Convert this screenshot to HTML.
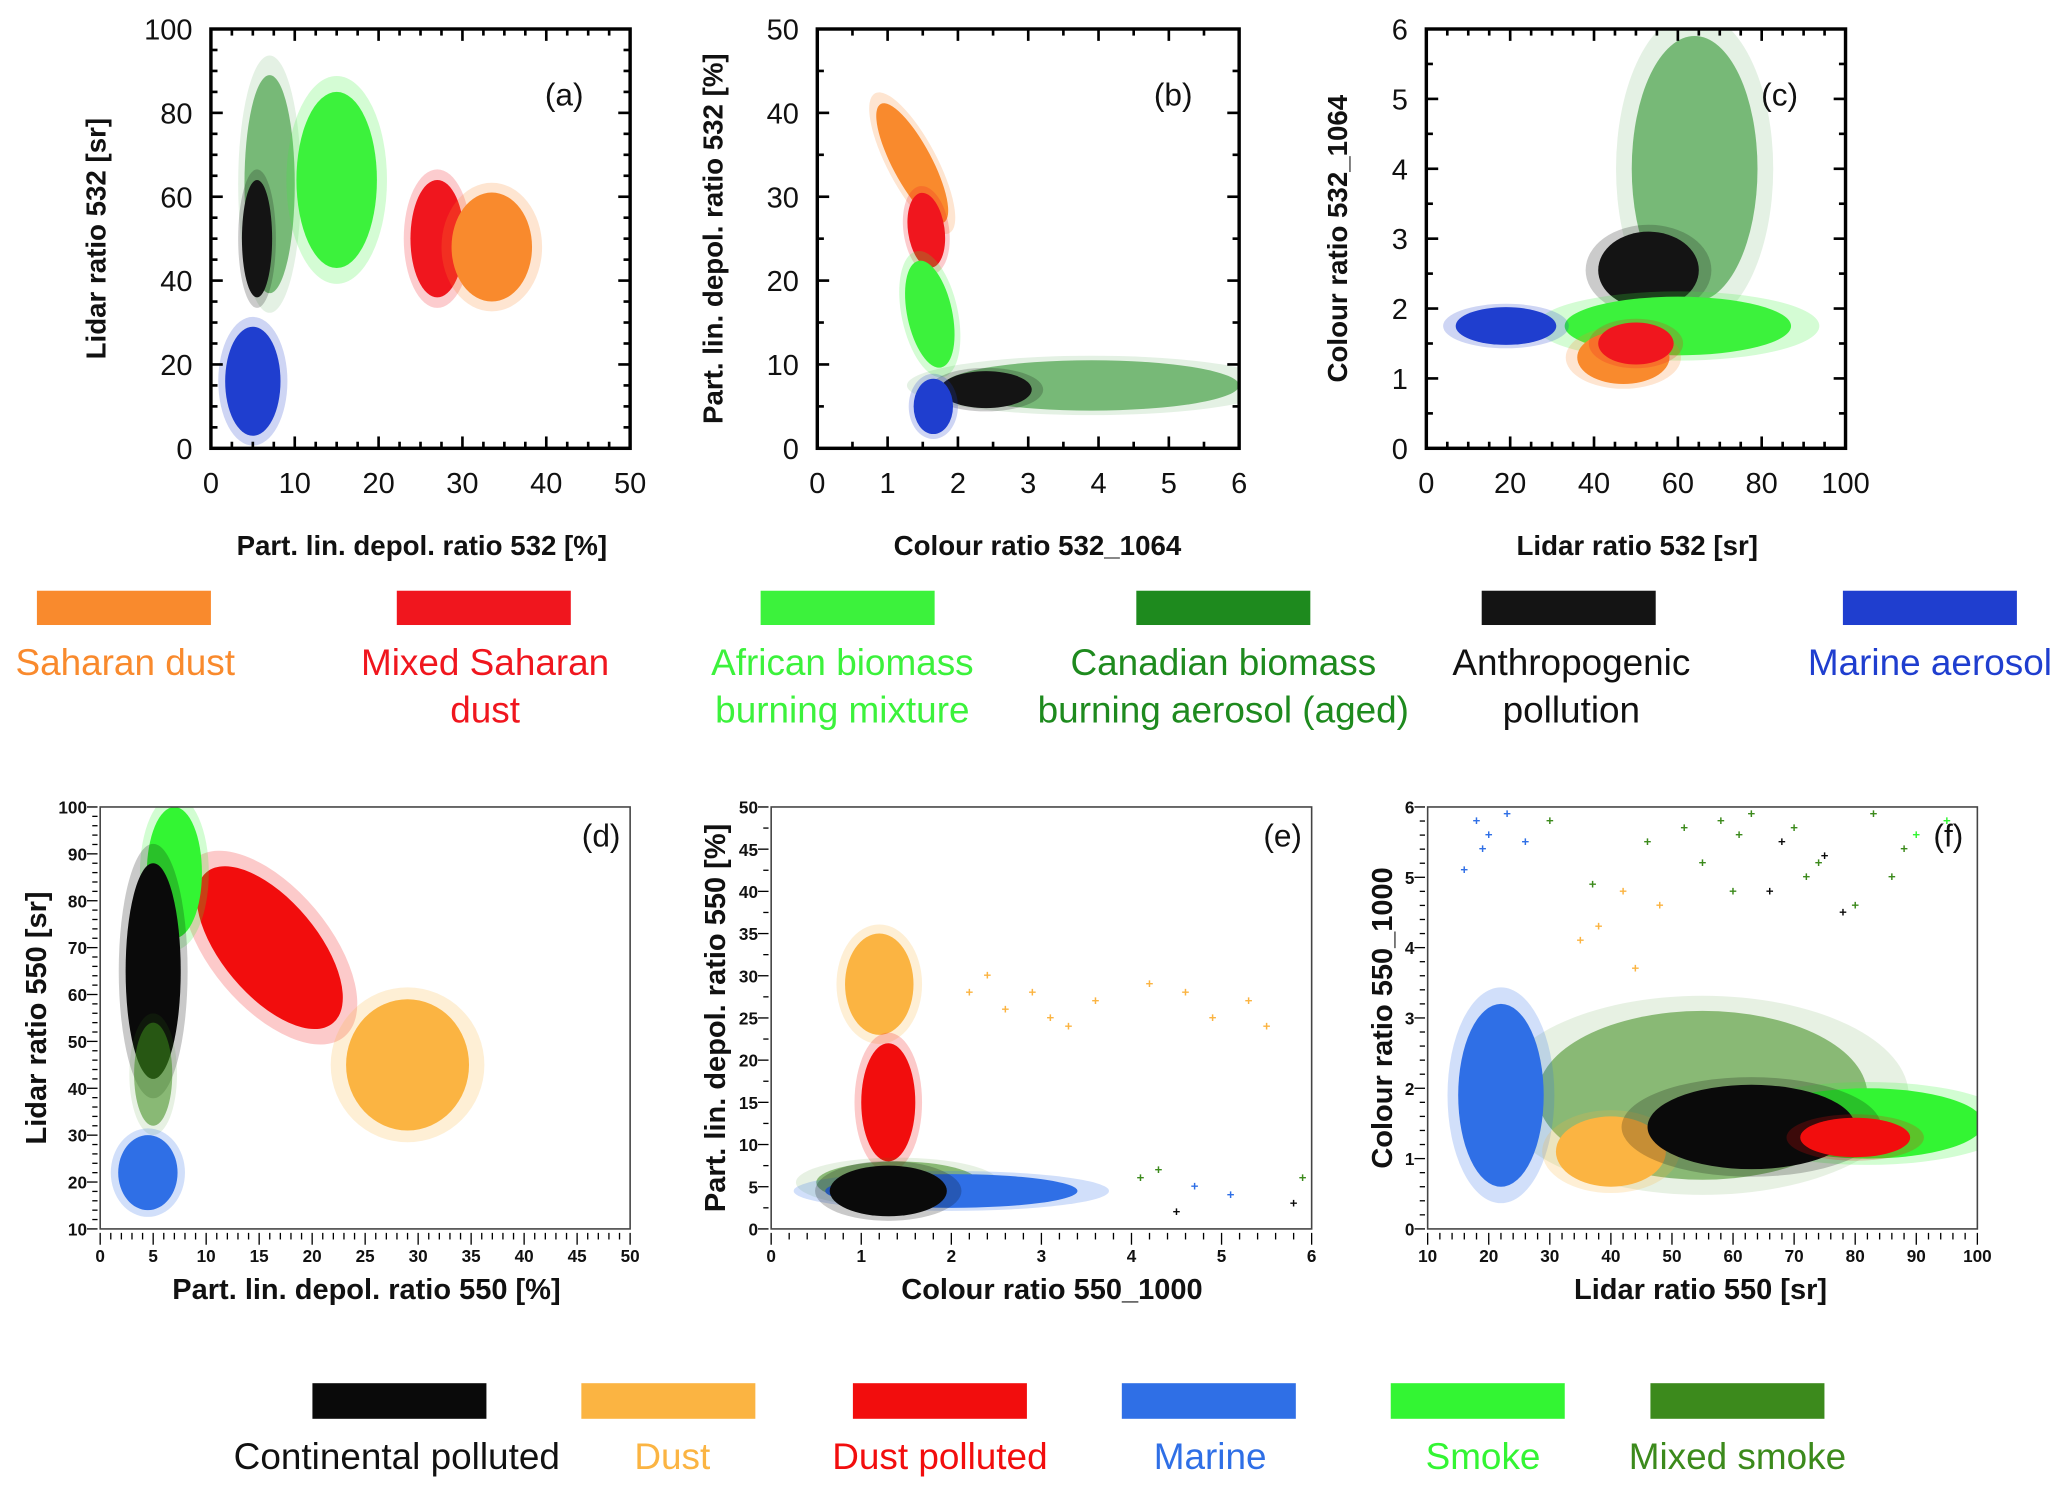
<!DOCTYPE html>
<html><head><meta charset="utf-8"><style>
html,body{margin:0;padding:0;background:#fff;}
svg{display:block;}
text{font-family:"Liberation Sans",sans-serif;}
</style></head><body>
<svg id="fig" width="2067" height="1490" viewBox="0 0 1568 1130" preserveAspectRatio="none" xmlns="http://www.w3.org/2000/svg">
<rect x="0" y="0" width="1568" height="1130" fill="#fff"/>
</svg>
<script>
// ---- Data: cluster centres / spreads per panel (data units) ----
// Panel (a)
const aNames = ["canadian","anthro","african","mixedsah","saharan","marine"];
const aCx = [7, 5.5, 15, 27, 33.5, 5];
const aCy = [63, 50, 64, 50, 48, 16];
const aRx = [3, 1.8, 4.8, 3.2, 4.8, 3.3];
const aRy = [26, 14, 21, 14, 13, 13];
const aRot = [0, 0, 0, 0, 0, 0];
// Panel (b)
const bNames = ["saharan","mixedsah","african","canadian","anthro","marine"];
const bCx = [1.35, 1.55, 1.6, 3.9, 2.4, 1.65];
const bCy = [34, 26, 16, 7.5, 7, 5];
const bRx = [0.28, 0.26, 0.32, 2.1, 0.65, 0.28];
const bRy = [8, 4.5, 6.5, 3, 2.2, 3.3];
const bRot = [-28, -8, -12, 0, 0, 0];
// Panel (c)
const cNames = ["canadian","anthro","african","saharan","mixedsah","marine"];
const cCx = [64, 53, 60, 47, 50, 19];
const cCy = [4.0, 2.55, 1.75, 1.3, 1.5, 1.75];
const cRx = [15, 12, 27, 11, 9, 12];
const cRy = [1.9, 0.55, 0.42, 0.38, 0.3, 0.27];
const cRot = [0, 0, 0, 0, 0, 0];
// Panel (d)
const dNames = ["dustpol","dust","smoke","contpol","mixsmoke","marine2"];
const dCx = [16, 29, 7, 5, 5, 4.5];
const dCy = [70, 45, 86, 65, 43, 22];
const dRx = [4.5, 5.8, 2.6, 2.6, 1.8, 2.8];
const dRy = [21, 14, 14, 23, 11, 8];
const dRot = [-40, 0, 0, 0, 0, 0];
// Panel (e)
const eNames = ["dust","dustpol","mixsmoke","marine2","contpol"];
const eCx = [1.2, 1.3, 1.4, 2.0, 1.3];
const eCy = [29, 15, 5.5, 4.5, 4.5];
const eRx = [0.38, 0.3, 0.9, 1.4, 0.65];
const eRy = [6, 7, 2.5, 2, 3];
const eRot = [0, 0, 0, 0, 0];
// Panel (f)
const fNames = ["mixsmoke","marine2","dust","smoke","contpol","dustpol"];
const fCx = [55, 22, 40, 82, 63, 80];
const fCy = [1.9, 1.9, 1.1, 1.5, 1.45, 1.3];
const fRx = [27, 7, 9, 19, 17, 9];
const fRy = [1.2, 1.3, 0.5, 0.5, 0.6, 0.28];
const fRot = [0, 0, 0, 0, 0, 0];
// Sparse outlier points
const eSparseX = [2.2,2.6,3.3,3.6,4.2,4.6,4.9,5.3,5.5,2.4,2.9,3.1,4.1,4.7,5.8,4.5,5.9,4.3,5.1];
const eSparseY = [28,26,24,27,29,28,25,27,24,30,28,25,6,5,3,2,6,7,4];
const eSparseC = ["dust","dust","dust","dust","dust","dust","dust","dust","dust","dust","dust","dust","mixsmoke","marine2","contpol","contpol","mixsmoke","mixsmoke","marine2"];
const fSparseX = [18,20,23,26,16,19,38,42,46,48,55,60,63,68,72,75,80,83,86,90,35,44,58,66,70,78,30,37,52,61,74,88,95];
const fSparseY = [5.8,5.6,5.9,5.5,5.1,5.4,4.3,4.8,5.5,4.6,5.2,4.8,5.9,5.5,5.0,5.3,4.6,5.9,5.0,5.6,4.1,3.7,5.8,4.8,5.7,4.5,5.8,4.9,5.7,5.6,5.2,5.4,5.8];
const fSparseC = ["marine2","marine2","marine2","marine2","marine2","marine2","dust","dust","mixsmoke","dust","mixsmoke","mixsmoke","mixsmoke","contpol","mixsmoke","contpol","mixsmoke","mixsmoke","mixsmoke","smoke","dust","dust","mixsmoke","contpol","mixsmoke","contpol","mixsmoke","mixsmoke","mixsmoke","mixsmoke","mixsmoke","mixsmoke","smoke"];

// ---- Styles ----
const colors = {saharan:"#f98a2d",mixedsah:"#f0161e",african:"#3cf23c",canadian:"#1e8a1e",anthro:"#141414",marine:"#1f3ecf",
  contpol:"#0a0a0a",dust:"#fbb442",dustpol:"#f20d0d",smoke:"#33f533",mixsmoke:"#3c8a1c",marine2:"#2f6fe6"};
const alphas = {canadian:0.55, mixsmoke:0.55};
const NS="http://www.w3.org/2000/svg";
const svg=document.getElementById('fig');
function el(tag,attrs,parent){const e=document.createElementNS(NS,tag);for(const k in attrs)e.setAttribute(k,attrs[k]);(parent||svg).appendChild(e);return e;}

function panel(cfg, names, cx, cy, rx, ry, rot, sx, sy, sc){
  const g=el('g',{});
  
  
  const X=v=>cfg.x0+(v-cfg.xmin)/(cfg.xmax-cfg.xmin)*(cfg.x1-cfg.x0);
  const Y=v=>cfg.y1-(v-cfg.ymin)/(cfg.ymax-cfg.ymin)*(cfg.y1-cfg.y0);
  const kx=(cfg.x1-cfg.x0)/(cfg.xmax-cfg.xmin), ky=(cfg.y1-cfg.y0)/(cfg.ymax-cfg.ymin);
  const clip=el('clipPath',{id:'clip-'+cfg.id},g);
  el('rect',{x:cfg.x0,y:cfg.y0,width:cfg.x1-cfg.x0,height:cfg.y1-cfg.y0},clip);
  const marks=el('g',{'clip-path':'url(#clip-'+cfg.id+')'},g);
  if(sx){for(let i=0;i<sx.length;i++){
    const p=el('text',{x:X(sx[i]),y:Y(sy[i])+3,'text-anchor':'middle','font-size':10,'font-weight':'bold',fill:colors[sc[i]]},marks);
    p.textContent='+';
    
    
  }}
  for(let i=0;i<names.length;i++){
    const px=X(cx[i]),py=Y(cy[i]);
    const a=alphas[names[i]]||1;
    const halo=el('ellipse',{cx:px,cy:py,rx:rx[i]*kx*1.25,ry:ry[i]*ky*1.18,fill:colors[names[i]],opacity:0.22*a,transform:`rotate(${rot[i]} ${px} ${py})`},marks);
    
    
    const core=el('ellipse',{cx:px,cy:py,rx:rx[i]*kx,ry:ry[i]*ky,fill:colors[names[i]],opacity:a,transform:`rotate(${rot[i]} ${px} ${py})`},marks);
    
    
  }
  const A=cfg.style==='A';
  const fr=el('rect',{x:cfg.x0,y:cfg.y0,width:cfg.x1-cfg.x0,height:cfg.y1-cfg.y0,fill:'none',stroke:A?'#000':'#444','stroke-width':A?2.6:1.2},g);
  
  
  const nx=Math.round((cfg.xmax-cfg.xmin)/cfg.xstep), ny=Math.round((cfg.ymax-cfg.ymin)/cfg.ystep);
  const tg=el('g',{stroke:'#000','stroke-width':A?2:1},g);
  for(let i=0;i<=nx*cfg.xminor;i++){
    const v=cfg.xmin+i*cfg.xstep/cfg.xminor, px=X(v), major=i%cfg.xminor===0, L=major?9:5;
    if(A){el('line',{x1:px,x2:px,y1:cfg.y1,y2:cfg.y1-L},tg);el('line',{x1:px,x2:px,y1:cfg.y0,y2:cfg.y0+L},tg);}
    else el('line',{x1:px,x2:px,y1:cfg.y1+3,y2:cfg.y1+3+(major?9:5)},tg);
    if(major){const t=el('text',{x:px,y:A?cfg.y1+34:cfg.y1+25,'text-anchor':'middle','font-size':A?22:13,'font-weight':A?'normal':'bold',fill:'#111'},g);t.textContent=+v.toFixed(2);
      
      }
  }
  for(let i=0;i<=ny*cfg.yminor;i++){
    const v=cfg.ymin+i*cfg.ystep/cfg.yminor, py=Y(v), major=i%cfg.yminor===0, L=major?9:5;
    if(A){el('line',{x1:cfg.x0,x2:cfg.x0+L,y1:py,y2:py},tg);el('line',{x1:cfg.x1,x2:cfg.x1-L,y1:py,y2:py},tg);}
    else el('line',{x1:cfg.x0-2,x2:cfg.x0-2-(major?8:4),y1:py,y2:py},tg);
    if(major){const t=el('text',{x:A?cfg.x0-14:cfg.x0-10,y:py+(A?8:5),'text-anchor':'end','font-size':A?22:13,'font-weight':A?'normal':'bold',fill:'#111'},g);t.textContent=+v.toFixed(2);
      
      }
  }
  const xt=el('text',{x:cfg.xtx,y:cfg.xty,'text-anchor':'middle','font-size':A?21:22,'font-weight':'bold',fill:'#111'},g);xt.textContent=cfg.xtitle;
  
  
  const yt=el('text',{x:0,y:0,'text-anchor':'middle','font-size':A?21:22,'font-weight':'bold',fill:'#111',transform:`translate(${cfg.ytx},${(cfg.y0+cfg.y1)/2}) rotate(-90)`},g);yt.textContent=cfg.ytitle;
  
  
  const pl=el('text',{x:cfg.x1-(A?50:22),y:cfg.y0+(A?58:30),'text-anchor':'middle','font-size':24,fill:'#111'},g);pl.textContent=cfg.label;
  
  
}

panel({id:'panel-a',style:'A',x0:160,x1:478,y0:22,y1:340,xmin:0,xmax:50,xstep:10,xminor:4,ymin:0,ymax:100,ystep:20,yminor:4,
  xtitle:'Part. lin. depol. ratio 532 [%]',xtx:320,xty:421,ytitle:'Lidar ratio 532 [sr]',ytx:80,label:'(a)'},aNames,aCx,aCy,aRx,aRy,aRot);
panel({id:'panel-b',style:'A',x0:620,x1:940,y0:22,y1:340,xmin:0,xmax:6,xstep:1,xminor:2,ymin:0,ymax:50,ystep:10,yminor:2,
  xtitle:'Colour ratio 532_1064',xtx:787,xty:421,ytitle:'Part. lin. depol. ratio 532 [%]',ytx:548,label:'(b)'},bNames,bCx,bCy,bRx,bRy,bRot);
panel({id:'panel-c',style:'A',x0:1082,x1:1400,y0:22,y1:340,xmin:0,xmax:100,xstep:20,xminor:4,ymin:0,ymax:6,ystep:1,yminor:2,
  xtitle:'Lidar ratio 532 [sr]',xtx:1242,xty:421,ytitle:'Colour ratio 532_1064',ytx:1022,label:'(c)'},cNames,cCx,cCy,cRx,cRy,cRot);
panel({id:'panel-d',style:'B',x0:76,x1:478,y0:612,y1:932,xmin:0,xmax:50,xstep:5,xminor:5,ymin:10,ymax:100,ystep:10,yminor:5,
  xtitle:'Part. lin. depol. ratio 550 [%]',xtx:278,xty:985,ytitle:'Lidar ratio 550 [sr]',ytx:35,label:'(d)'},dNames,dCx,dCy,dRx,dRy,dRot);
panel({id:'panel-e',style:'B',x0:585,x1:995,y0:612,y1:932,xmin:0,xmax:6,xstep:1,xminor:5,ymin:0,ymax:50,ystep:5,yminor:2,
  xtitle:'Colour ratio 550_1000',xtx:798,xty:985,ytitle:'Part. lin. depol. ratio 550 [%]',ytx:550,label:'(e)'},eNames,eCx,eCy,eRx,eRy,eRot,eSparseX,eSparseY,eSparseC);
panel({id:'panel-f',style:'B',x0:1083,x1:1500,y0:612,y1:932,xmin:10,xmax:100,xstep:10,xminor:5,ymin:0,ymax:6,ystep:1,yminor:5,
  xtitle:'Lidar ratio 550 [sr]',xtx:1290,xty:985,ytitle:'Colour ratio 550_1000',ytx:1056,label:'(f)'},fNames,fCx,fCy,fRx,fRy,fRot,fSparseX,fSparseY,fSparseC);

// ---- Legends ----
const leg1Keys=["saharan","mixedsah","african","canadian","anthro","marine"];
const leg1Text=[["Saharan dust"],["Mixed Saharan","dust"],["African biomass","burning mixture"],["Canadian biomass","burning aerosol (aged)"],["Anthropogenic","pollution"],["Marine aerosol"]];
const leg1Rect=[28,301,577,862,1124,1398];
const leg1TextX=[95,368,639,928,1192,1464];
const leg2Keys=["contpol","dust","dustpol","marine2","smoke","mixsmoke"];
const leg2Text=["Continental polluted","Dust","Dust polluted","Marine","Smoke","Mixed smoke"];
const leg2Rect=[237,441,647,851,1055,1252];
const leg2TextX=[301,510,713,918,1125,1318];
for(let i=0;i<leg1Keys.length;i++){
  const r=el('rect',{x:leg1Rect[i],y:448,width:132,height:26,fill:colors[leg1Keys[i]]});
  
  
  leg1Text[i].forEach((s,j)=>{const t=el('text',{x:leg1TextX[i],y:512+j*36,'text-anchor':'middle','font-size':28,fill:leg1Keys[i]==='anthro'?'#111':colors[leg1Keys[i]]});t.textContent=s;
    
    });
}
for(let i=0;i<leg2Keys.length;i++){
  const r=el('rect',{x:leg2Rect[i],y:1049,width:132,height:27,fill:colors[leg2Keys[i]]});
  
  
  const t=el('text',{x:leg2TextX[i],y:1114,'text-anchor':'middle','font-size':28,fill:leg2Keys[i]==='contpol'?'#111':colors[leg2Keys[i]]});t.textContent=leg2Text[i];
  
  
}
</script>
</body></html>
